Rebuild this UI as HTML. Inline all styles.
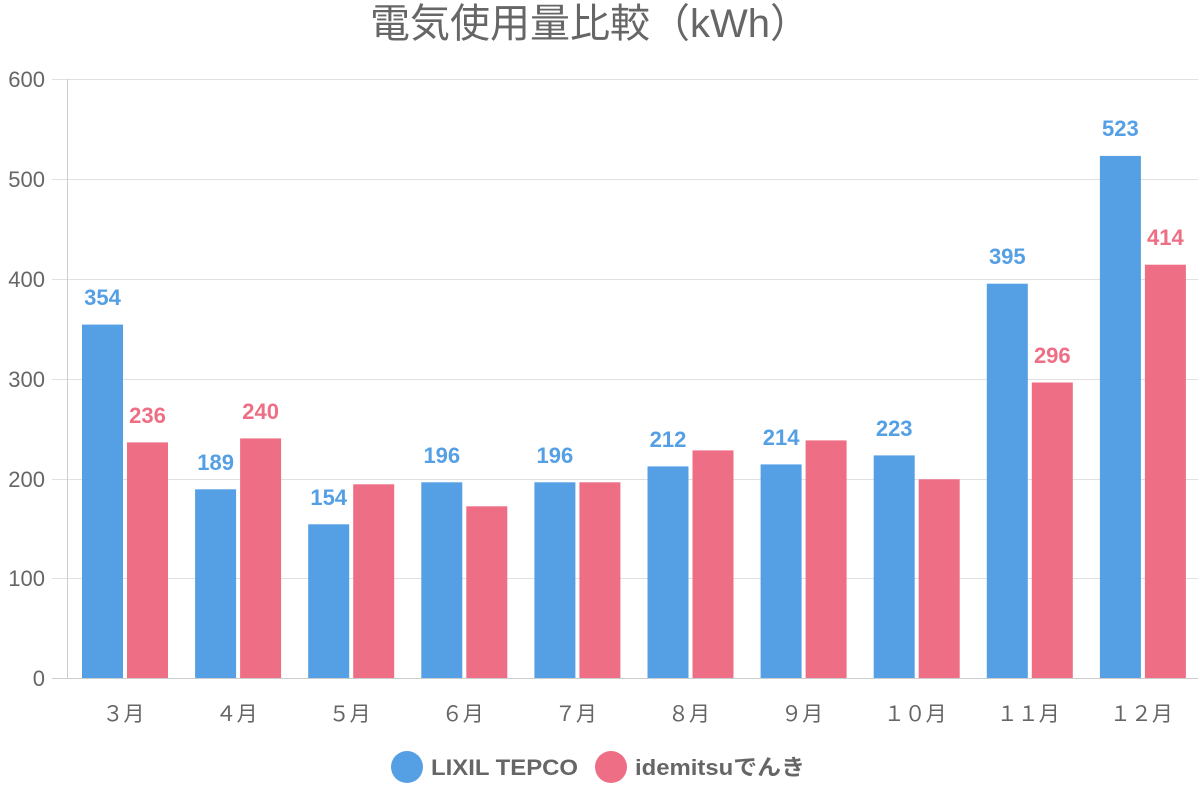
<!DOCTYPE html>
<html><head><meta charset="utf-8"><style>
html,body{margin:0;padding:0;background:#fff}
svg{display:block;font-family:"Liberation Sans","Noto Sans CJK JP",sans-serif}
</style></head><body>
<svg width="1200" height="800" xmlns="http://www.w3.org/2000/svg">
<text x="370" y="37" font-size="40" fill="#666" textLength="440" lengthAdjust="spacingAndGlyphs">電気使用量比較（kWh）</text>
<g stroke="#e0e0e0" stroke-width="1">
<line x1="52" y1="79.5" x2="1198" y2="79.5"/>
<line x1="52" y1="179.5" x2="1198" y2="179.5"/>
<line x1="52" y1="279.5" x2="1198" y2="279.5"/>
<line x1="52" y1="379.5" x2="1198" y2="379.5"/>
<line x1="52" y1="479.5" x2="1198" y2="479.5"/>
<line x1="52" y1="578.5" x2="1198" y2="578.5"/>
<line x1="52" y1="678.5" x2="1198" y2="678.5" stroke="#ccc"/>
<line x1="67.5" y1="79" x2="67.5" y2="678" stroke="#ccc"/>
</g>
<g font-size="22" fill="#666" text-anchor="end">
<text x="45" y="87">600</text><text x="45" y="187">500</text><text x="45" y="287">400</text>
<text x="45" y="387">300</text><text x="45" y="487">200</text><text x="45" y="586">100</text><text x="45" y="686">0</text>
</g>
<g fill="#55a0e5">
<rect x="82" y="324.6" width="41" height="353.4"/>
<rect x="195.1" y="489.3" width="41" height="188.7"/>
<rect x="308.2" y="524.3" width="41" height="153.7"/>
<rect x="421.3" y="482.3" width="41" height="195.7"/>
<rect x="534.4" y="482.3" width="41" height="195.7"/>
<rect x="647.5" y="466.4" width="41" height="211.6"/>
<rect x="760.6" y="464.4" width="41" height="213.6"/>
<rect x="873.7" y="455.4" width="41" height="222.6"/>
<rect x="986.8" y="283.7" width="41" height="394.3"/>
<rect x="1099.9" y="155.9" width="41" height="522.1"/>
</g>
<g fill="#ee6f85">
<rect x="127" y="442.4" width="41" height="235.6"/>
<rect x="240.1" y="438.4" width="41" height="239.6"/>
<rect x="353.2" y="484.3" width="41" height="193.7"/>
<rect x="466.3" y="506.3" width="41" height="171.7"/>
<rect x="579.4" y="482.3" width="41" height="195.7"/>
<rect x="692.5" y="450.4" width="41" height="227.6"/>
<rect x="805.6" y="440.4" width="41" height="237.6"/>
<rect x="918.7" y="479.3" width="41" height="198.7"/>
<rect x="1031.8" y="382.5" width="41" height="295.5"/>
<rect x="1144.9" y="264.7" width="41" height="413.3"/>
</g>
<g font-size="22" font-weight="bold" fill="#55a0e5" text-anchor="middle">
<text x="102.5" y="305">354</text>
<text x="215.6" y="470">189</text>
<text x="328.7" y="505">154</text>
<text x="441.8" y="463">196</text>
<text x="554.9" y="463">196</text>
<text x="668" y="447">212</text>
<text x="781.1" y="445">214</text>
<text x="894.2" y="436">223</text>
<text x="1007.3" y="264">395</text>
<text x="1120.4" y="136">523</text>
</g>
<g font-size="22" font-weight="bold" fill="#ee6f85" text-anchor="middle">
<text x="147.5" y="423">236</text>
<text x="260.6" y="419">240</text>
<text x="1052.3" y="363">296</text>
<text x="1165.4" y="245">414</text>
</g>
<g font-size="21" fill="#666" text-anchor="middle">
<text x="123.5" y="721">３月</text><text x="236.6" y="721">４月</text><text x="349.7" y="721">５月</text>
<text x="462.8" y="721">６月</text><text x="575.9" y="721">７月</text><text x="689" y="721">８月</text>
<text x="802.1" y="721">９月</text><text x="915.2" y="721">１０月</text><text x="1028.3" y="721">１１月</text>
<text x="1141.4" y="721">１２月</text>
</g>
<circle cx="407" cy="767" r="16" fill="#55a0e5"/>
<text x="431" y="775" font-size="22" font-weight="bold" fill="#666" textLength="147" lengthAdjust="spacingAndGlyphs">LIXIL TEPCO</text>
<circle cx="611" cy="767" r="16" fill="#ee6f85"/>
<text x="635" y="775" font-size="22" font-weight="bold" fill="#666" textLength="170" lengthAdjust="spacingAndGlyphs">idemitsuでんき</text>
</svg>
</body></html>
